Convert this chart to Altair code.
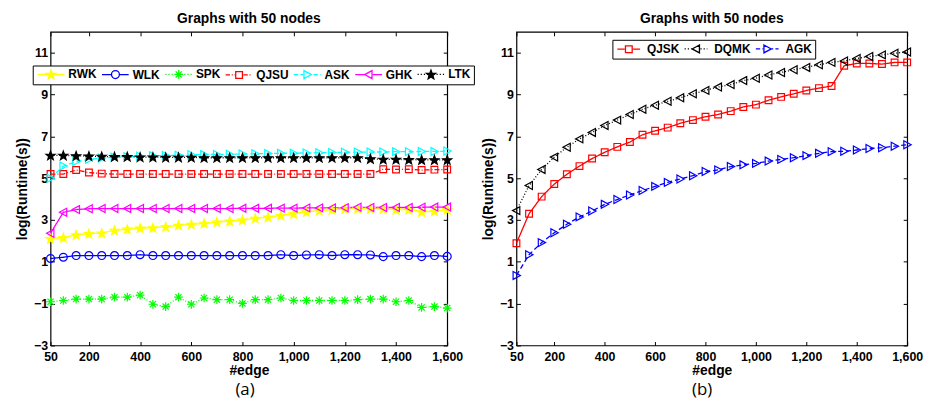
import math
import altair as alt
import pandas as pd

# ---------------- data ----------------
EDGES = [50, 100, 150, 200, 250, 300, 350, 400, 450, 500, 550, 600, 650, 700, 750, 800,
         850, 900, 950, 1000, 1050, 1100, 1150, 1200, 1250, 1300, 1350, 1400, 1450, 1500, 1550, 1600]

LEFT_NAMES = ["RWK", "WLK", "SPK", "QJSU", "ASK", "GHK", "LTK"]
RWK = [2.11, 2.16, 2.29, 2.35, 2.37, 2.51, 2.56, 2.61, 2.63, 2.67, 2.75, 2.79, 2.84, 2.90, 2.95, 3.00,
       3.08, 3.14, 3.22, 3.31, 3.39, 3.45, 3.50, 3.53, 3.55, 3.55, 3.53, 3.50, 3.50, 3.39, 3.42, 3.50]
WLK = [1.16, 1.22, 1.30, 1.30, 1.30, 1.30, 1.30, 1.34, 1.30, 1.30, 1.30, 1.30, 1.30, 1.30, 1.30, 1.30,
       1.30, 1.30, 1.34, 1.30, 1.33, 1.34, 1.30, 1.34, 1.34, 1.33, 1.25, 1.30, 1.30, 1.25, 1.30, 1.26]
SPK = [-0.91, -0.85, -0.78, -0.78, -0.78, -0.69, -0.69, -0.59, -1.03, -1.14, -0.69, -1.03, -0.73, -0.81, -0.81, -0.99,
       -0.81, -0.81, -0.73, -0.85, -0.85, -0.85, -0.85, -0.85, -0.81, -0.78, -0.78, -0.91, -0.85, -1.18, -1.14, -1.21]
QJSU = [5.20, 5.20, 5.39, 5.27, 5.22, 5.20, 5.20, 5.20, 5.20, 5.20, 5.20, 5.20, 5.20, 5.20, 5.20, 5.20,
        5.20, 5.20, 5.20, 5.20, 5.20, 5.20, 5.20, 5.20, 5.20, 5.20, 5.43, 5.42, 5.43, 5.39, 5.41, 5.42]
ASK = [5.00, 5.58, 5.80, 5.90, 5.97, 6.00, 6.03, 6.05, 6.07, 6.09, 6.10, 6.12, 6.13, 6.14, 6.15, 6.16,
       6.17, 6.18, 6.19, 6.20, 6.21, 6.22, 6.23, 6.24, 6.25, 6.25, 6.26, 6.27, 6.27, 6.28, 6.28, 6.30]
GHK = [2.37, 3.37, 3.50, 3.54, 3.55, 3.55, 3.55, 3.55, 3.55, 3.55, 3.55, 3.55, 3.55, 3.55, 3.55, 3.56,
       3.56, 3.56, 3.57, 3.57, 3.58, 3.58, 3.58, 3.59, 3.61, 3.60, 3.60, 3.60, 3.60, 3.61, 3.62, 3.62]
LTK = [6.09, 6.09, 6.07, 6.06, 6.04, 6.03, 6.03, 6.01, 6.01, 6.00, 6.00, 6.00, 5.98, 5.98, 5.98, 5.98,
       5.98, 5.98, 5.98, 5.98, 5.98, 5.98, 5.98, 5.98, 5.98, 5.93, 5.90, 5.90, 5.89, 5.88, 5.88, 5.88]

RIGHT_NAMES = ["QJSK", "DQMK", "AGK"]
QJSK = [1.89, 3.30, 4.12, 4.72, 5.19, 5.58, 5.94, 6.24, 6.50, 6.73, 7.08, 7.27, 7.42, 7.63, 7.78, 7.94,
        8.05, 8.21, 8.41, 8.52, 8.73, 8.89, 9.04, 9.20, 9.31, 9.41, 10.38, 10.49, 10.49, 10.46, 10.54, 10.54]
DQMK = [3.45, 4.65, 5.42, 6.01, 6.48, 6.88, 7.19, 7.52, 7.78, 8.05, 8.30, 8.49, 8.68, 8.85, 9.04, 9.20,
        9.36, 9.48, 9.67, 9.78, 9.94, 10.06, 10.19, 10.30, 10.43, 10.54, 10.61, 10.73, 10.82, 10.90, 10.98, 11.04]
AGK = [0.35, 1.34, 1.92, 2.39, 2.80, 3.15, 3.43, 3.75, 3.98, 4.20, 4.41, 4.61, 4.80, 4.96, 5.12, 5.32,
       5.40, 5.56, 5.64, 5.71, 5.82, 5.90, 5.98, 6.08, 6.19, 6.27, 6.29, 6.35, 6.42, 6.46, 6.53, 6.60]

X_TICKS = [50, 200, 400, 600, 800, 1000, 1200, 1400, 1600]
Y_TICKS = [-3, -1, 1, 3, 5, 7, 9, 11]

# ---------------- styles ----------------
FONT = "Liberation Sans"
STYLE = {
    "RWK": ("#ffff00", "solid", "star", True),
    "WLK": ("#0000ff", "solid", "circle", False),
    "SPK": ("#00ff00", "dotted", "asterisk", False),
    "QJSU": ("#ff0000", "dashdot", "square", False),
    "ASK": ("#00ffff", "dashed", "tri_right", False),
    "GHK": ("#ff00ff", "solid", "tri_left", False),
    "LTK": ("#000000", "dotted", "star", True),
    "QJSK": ("#ff0000", "solid", "square", False),
    "DQMK": ("#000000", "dotted", "tri_left", False),
    "AGK": ("#0000ff", "dashed", "tri_right", False),
}
DASH_PX = {"solid": [1, 0], "dotted": [1, 2], "dashdot": [5, 2, 1, 2], "dashed": [5, 3]}
DASH_UNITS = {"solid": None, "dotted": [0.3, 0.5], "dashdot": [1.1, 0.45, 0.25, 0.45], "dashed": [1.1, 0.55]}

NO_SCALES = dict(x="independent", y="independent", shape="independent", stroke="independent",
                 fill="independent", strokeDash="independent")


def marker_path(kind, cx=0.0):
    if kind == "circle":
        return f"M{cx+1:.2f},0A1,1 0 1,1 {cx-1:.2f},0A1,1 0 1,1 {cx+1:.2f},0Z"
    if kind == "square":
        return f"M{cx-0.85:.2f},-0.85H{cx+0.85:.2f}V0.85H{cx-0.85:.2f}Z"
    if kind == "tri_right":
        return f"M{cx-0.85:.2f},-1L{cx+1:.2f},0L{cx-0.85:.2f},1Z"
    if kind == "tri_left":
        return f"M{cx+0.85:.2f},-1L{cx-1:.2f},0L{cx+0.85:.2f},1Z"
    if kind == "star":
        pts = []
        for k in range(10):
            ang = math.radians(-90 + 36 * k)
            r = 1.2 if k % 2 == 0 else 0.5
            pts.append((cx + r * math.cos(ang), 0.1 + r * math.sin(ang)))
        return "M" + "L".join(f"{x:.2f},{y:.2f}" for x, y in pts) + "Z"
    if kind == "asterisk":
        return (f"M{cx:.2f},-1.1V1.1M{cx-1.1:.2f},0H{cx+1.1:.2f}"
                f"M{cx-0.78:.2f},-0.78L{cx+0.78:.2f},0.78M{cx-0.78:.2f},0.78L{cx+0.78:.2f},-0.78")
    return ""


def line_path(style, start, end, gap):
    pattern = DASH_UNITS[style]
    raw = []
    if not pattern:
        raw = [(start, end)]
    else:
        pos, i = start, 0
        while pos < end:
            seg = pattern[i % len(pattern)]
            if i % 2 == 0:
                raw.append((pos, min(pos + seg, end)))
            pos += seg
            i += 1
    out = []
    for a, b in raw:
        for lo, hi in ((a, min(b, gap[0])), (max(a, gap[1]), b)):
            if hi - lo > 0.05:
                out.append((lo, hi))
    return "".join(f"M{a:.2f},0H{b:.2f}" for a, b in out)


def legend_path(name, start, end, cx):
    _, style, kind, _ = STYLE[name]
    return line_path(style, start, end, (cx - 1.05, cx + 1.05)) + marker_path(kind, cx)


def long_frame(names, series):
    rows = []
    for n, vals in zip(names, series):
        for e, v in zip(EDGES, vals):
            rows.append({"edge": e, "value": v, "series": n})
    return pd.DataFrame(rows)


def panel(names, series, caption, width, legend_x, legend_y, cols, seg_end, cx,
          label_offset, col_pad):
    df = long_frame(names, series)
    colors = [STYLE[n][0] for n in names]
    fills = [STYLE[n][0] if STYLE[n][3] else "transparent" for n in names]
    dashes = [DASH_PX[STYLE[n][1]] for n in names]
    plot_shapes = [marker_path(STYLE[n][2]) for n in names]
    leg_shapes = [legend_path(n, -1.0, seg_end, cx) for n in names]

    xs = alt.Scale(domain=[50, 1600], nice=False, zero=False)
    ys = alt.Scale(domain=[-3, 12], nice=False, zero=False)

    axis_common = dict(domain=False, grid=False, tickSize=4, offset=-4, tickColor="black",
                       tickWidth=1, labelFont=FONT, labelFontSize=12.5, labelFontWeight="bold",
                       labelColor="black", titleFont=FONT, titleFontSize=14,
                       titleFontWeight="bold", titleColor="black", minExtent=0)

    x_bottom = alt.Axis(values=X_TICKS, format=",d", title="#edge", labelPadding=5,
                        titlePadding=1, labelFlush=False, labelOverlap=False, **axis_common)
    y_left = alt.Axis(values=Y_TICKS, title="log(Runtime(s))", labelPadding=3,
                      titlePadding=4, **axis_common)
    x_top = alt.Axis(values=X_TICKS, orient="top", labels=False, title=None, **axis_common)
    y_right = alt.Axis(values=Y_TICKS, orient="right", labels=False, title=None, **axis_common)

    base = alt.Chart(df)
    lines = base.mark_line(strokeWidth=1.3).encode(
        x=alt.X("edge:Q", scale=xs, axis=x_bottom),
        y=alt.Y("value:Q", scale=ys, axis=y_left),
        stroke=alt.Stroke("series:N", scale=alt.Scale(domain=names, range=colors), legend=None),
        strokeDash=alt.StrokeDash("series:N", scale=alt.Scale(domain=names, range=dashes), legend=None),
    )
    points = base.mark_point(size=64, strokeWidth=1.2, opacity=1).encode(
        x=alt.X("edge:Q", scale=xs, axis=x_top),
        y=alt.Y("value:Q", scale=ys, axis=y_right),
        shape=alt.Shape("series:N", scale=alt.Scale(domain=names, range=plot_shapes), legend=None),
        stroke=alt.Stroke("series:N", scale=alt.Scale(domain=names, range=colors), legend=None),
        fill=alt.Fill("series:N", scale=alt.Scale(domain=names, range=fills), legend=None),
    )

    def leg():
        return alt.Legend(title=None, orient="none", legendX=legend_x, legendY=legend_y,
                          direction="horizontal", columns=cols, symbolSize=64,
                          symbolStrokeWidth=1.3, labelFont=FONT, labelFontSize=12,
                          labelFontWeight="bold", labelColor="black", labelOffset=label_offset,
                          columnPadding=col_pad, padding=3, strokeColor="black",
                          fillColor="white", cornerRadius=0)

    legend_layer = base.mark_point(size=64, opacity=1).encode(
        x=alt.X("edge:Q", scale=xs, axis=None),
        y=alt.Y("value:Q", scale=ys, axis=None),
        shape=alt.Shape("series:N", scale=alt.Scale(domain=names, range=leg_shapes), legend=leg()),
        stroke=alt.Stroke("series:N", scale=alt.Scale(domain=names, range=colors), legend=leg()),
        fill=alt.Fill("series:N", scale=alt.Scale(domain=names, range=fills), legend=leg()),
    ).transform_filter("false")

    plot = alt.layer(lines, points, legend_layer).resolve_scale(
        shape="independent", stroke="independent", fill="independent", strokeDash="independent"
    ).resolve_axis(x="independent", y="independent").properties(
        width=width, height=317,
        title=alt.TitleParams("Graphs with 50 nodes", orient="top", anchor="middle", font=FONT,
                              fontSize=14, fontWeight="bold", color="black", offset=5),
    )
    return alt.vconcat(plot).resolve_scale(**NO_SCALES).properties(
        title=alt.TitleParams(caption, orient="bottom", anchor="middle", font="Open Sans",
                              fontSize=17, fontWeight="normal", color="black", offset=4),
    )


left = panel(LEFT_NAMES, [RWK, WLK, SPK, QJSU, ASK, GHK, LTK], "(a)", 401,
             legend_x=-18, legend_y=34, cols=7, seg_end=5.75, cx=2.4, label_offset=21, col_pad=2)
right = panel(RIGHT_NAMES, [QJSK, DQMK, AGK], "(b)", 395,
              legend_x=97, legend_y=8, cols=3, seg_end=4.75, cx=1.9, label_offset=20, col_pad=2)

chart = alt.hconcat(left, right, spacing=5).resolve_scale(**NO_SCALES).properties(
    padding={"left": 7, "top": 1, "right": 0, "bottom": 0}
).configure_view(stroke="black", strokeWidth=1.2)

chart.save("out.html", embed_options={"renderer": "svg", "actions": False})
